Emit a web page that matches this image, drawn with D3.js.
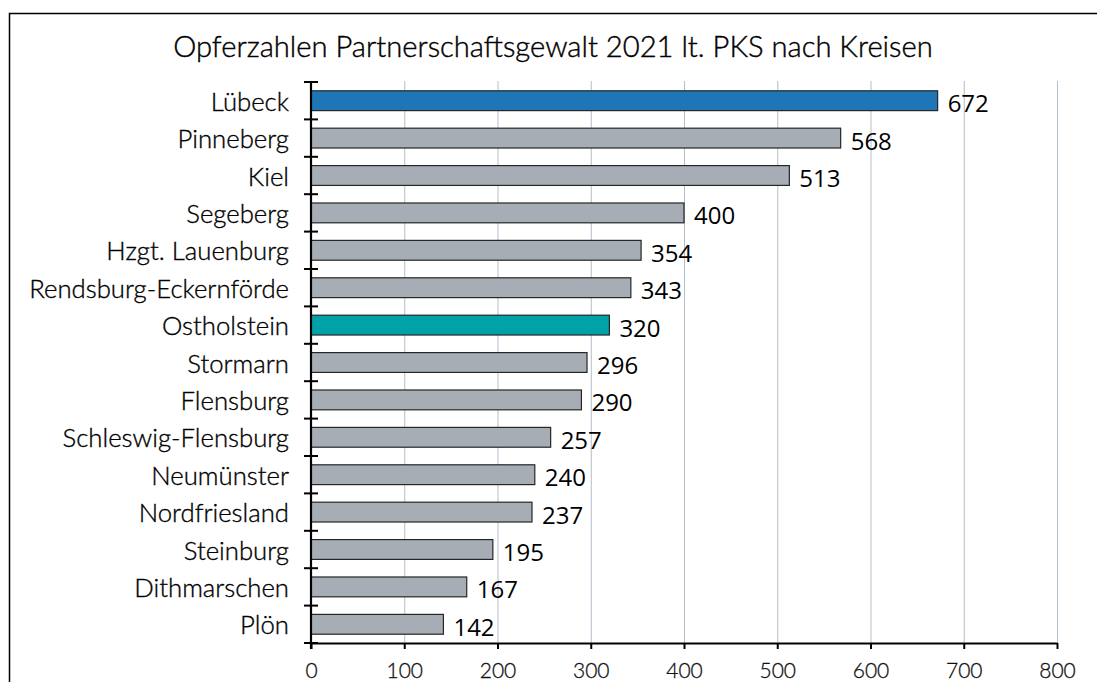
<!DOCTYPE html>
<html><head><meta charset="utf-8">
<script src="https://cdn.jsdelivr.net/npm/d3@7"></script>
<style>body{margin:0;background:#fff}svg{display:block}</style>
</head><body>
<svg id="c" width="1097" height="682"></svg>
<script>
const categories = ["Lübeck","Pinneberg","Kiel","Segeberg","Hzgt. Lauenburg","Rendsburg-Eckernförde","Ostholstein","Stormarn","Flensburg","Schleswig-Flensburg","Neumünster","Nordfriesland","Steinburg","Dithmarschen","Plön"];
const values = [672,568,513,400,354,343,320,296,290,257,240,237,195,167,142];
const highlight = {"Lübeck":"#1f76b6","Ostholstein":"#00a2a8"};
const xTicks = [0,100,200,300,400,500,600,700,800];
const title = "Opferzahlen Partnerschaftsgewalt 2021 lt. PKS nach Kreisen";

const svg = d3.select("#c");
const L = 311, R = 1057, T = 82, B = 643;
const x = d3.scaleLinear().domain([0,800]).range([L,R]);
const y = d3.scaleBand().domain(categories).range([T,B]).paddingInner(0.47).paddingOuter(0.235);
const step = y.step();

// border
svg.append("rect").attr("x",9.5).attr("y",13.5).attr("width",1200).attr("height",800)
  .attr("fill","none").attr("stroke","#000").attr("stroke-width",1.5);

// title
const tt = svg.append("text").attr("x",553).attr("y",57).attr("text-anchor","middle")
  .attr("font-family","Lato").attr("font-weight",300).attr("font-size",25).attr("fill","#000")
  .attr("stroke","#000").attr("stroke-width",0.4).text(title);
const tw = tt.node().getComputedTextLength();
tt.attr("font-size", 25*760/tw);

// gridlines
svg.append("g").selectAll("line").data(xTicks.filter(d=>d>0)).join("line")
  .attr("x1",d=>x(d)+0.5).attr("x2",d=>x(d)+0.5).attr("y1",81).attr("y2",B)
  .attr("stroke","#b3bfca").attr("stroke-width",1);

// bars
svg.append("g").selectAll("rect").data(categories).join("rect")
  .attr("x",x(0)).attr("y",d=>y(d)).attr("height",y.bandwidth())
  .attr("width",(d,i)=>x(values[i])-x(0))
  .attr("fill",d=>highlight[d]||"#a6adb5").attr("stroke","#262626").attr("stroke-width",1.2);

// value labels
svg.append("g").selectAll("text").data(categories).join("text")
  .attr("x",(d,i)=>x(values[i])+10).attr("y",d=>y(d)+y.bandwidth()/2+2)
  .attr("dominant-baseline","central").attr("font-family","Open Sans").attr("font-size",24)
  .attr("fill","#000").text((d,i)=>values[i]);

// category labels
const cl = svg.append("g").selectAll("text").data(categories).join("text")
  .attr("x",289).attr("y",d=>y(d)+y.bandwidth()/2)
  .attr("text-anchor","end").attr("dominant-baseline","central")
  .attr("font-family","Lato").attr("font-weight",300).attr("font-size",21).attr("fill","#000")
  .attr("stroke","#000").attr("stroke-width",0.35).text(d=>d);
const rw = cl.filter(d=>d==="Rendsburg-Eckernförde").node().getComputedTextLength();
cl.attr("font-size",21*260/rw);

// x axis
const xa = svg.append("g").attr("transform",`translate(0,${B})`)
  .call(d3.axisBottom(x).tickValues(xTicks).tickSize(6).tickSizeOuter(0).tickPadding(14));
xa.select(".domain").attr("stroke","#000").attr("stroke-width",2.2);
xa.selectAll(".tick line").attr("stroke","#000").attr("stroke-width",2);
xa.selectAll(".tick text").attr("font-family","Lato").attr("font-weight",300).attr("font-size",21)
  .attr("fill","#111").attr("stroke","#111").attr("stroke-width",0.3);

// y axis with boundary ticks
const bounds = d3.range(categories.length+1).map(i=>T+i*step);
svg.append("line").attr("x1",L).attr("x2",L).attr("y1",T).attr("y2",B+6)
  .attr("stroke","#000").attr("stroke-width",2.2);
svg.append("g").selectAll("line").data(bounds).join("line")
  .attr("x1",L-7).attr("x2",L+7).attr("y1",d=>d).attr("y2",d=>d)
  .attr("stroke","#000").attr("stroke-width",2);
</script>
</body></html>
